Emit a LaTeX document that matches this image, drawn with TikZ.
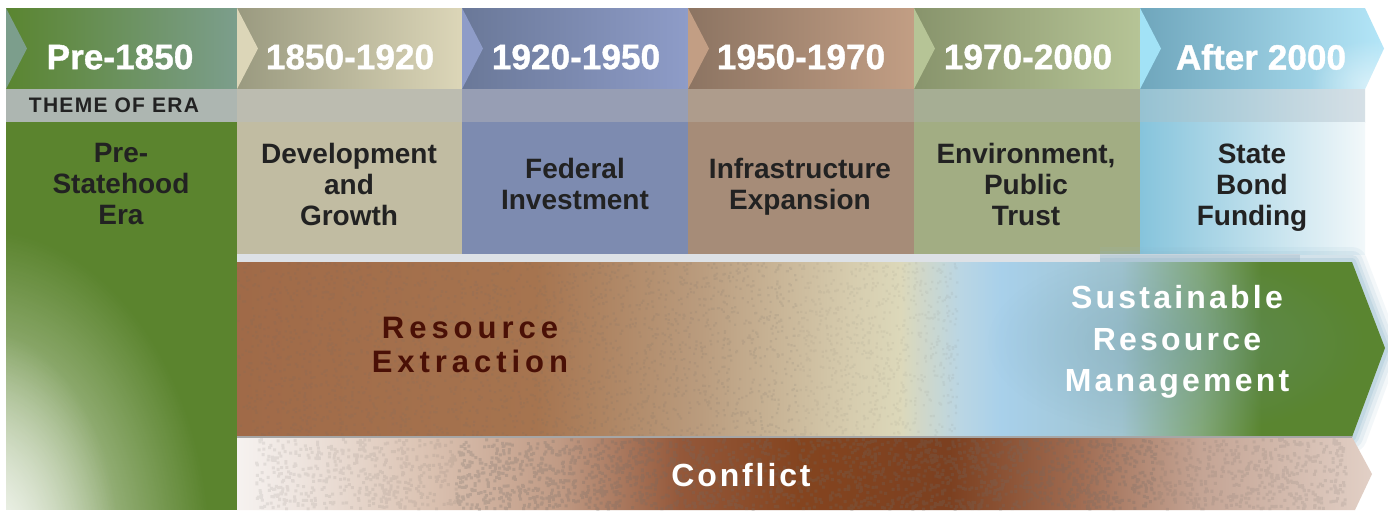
\documentclass[tikz,border=0pt]{standalone}
\usepackage{fontspec}
\setmainfont{Liberation Sans}
\usetikzlibrary{fadings}
% header colours (dark -> light)
\definecolor{hPreA}{HTML}{5A8530}\definecolor{hPreB}{HTML}{7C9E8C}
\definecolor{hDevA}{HTML}{9A9A80}\definecolor{hDevB}{HTML}{DCD6B8}
\definecolor{hFedA}{HTML}{6A7898}\definecolor{hFedB}{HTML}{8E9CC8}
\definecolor{hInfA}{HTML}{8C7462}\definecolor{hInfB}{HTML}{C29E84}
\definecolor{hEnvA}{HTML}{88946C}\definecolor{hEnvB}{HTML}{B6C496}
\definecolor{hStaA}{HTML}{6FA6BC}\definecolor{hStaB}{HTML}{B4E6F8}
\definecolor{hStaN}{HTML}{A2E2F6}
% theme row
\definecolor{tPre}{HTML}{ADB6B1}\definecolor{tDev}{HTML}{BCBCB0}
\definecolor{tFed}{HTML}{979EB4}\definecolor{tInf}{HTML}{AE9C8C}
\definecolor{tEnv}{HTML}{A6AE94}\definecolor{tStaA}{HTML}{96C2D2}\definecolor{tStaB}{HTML}{D6E0E6}
% content row
\definecolor{cPre}{HTML}{5B842E}\definecolor{cDev}{HTML}{C1BCA2}
\definecolor{cFed}{HTML}{7D8BB0}\definecolor{cInf}{HTML}{A68C78}
\definecolor{cEnv}{HTML}{A2AD83}\definecolor{cStaA}{HTML}{86C4DC}\definecolor{cStaB}{HTML}{F2F8FA}
\definecolor{gapgray}{HTML}{DDE1E6}
\definecolor{txtdark}{HTML}{222222}
\definecolor{restxt}{HTML}{4A1006}
\definecolor{glowblue}{HTML}{8FB8CC}
\definecolor{halo}{HTML}{6A96A6}
\definecolor{noisegray}{HTML}{6E6A66}
% band colours
\definecolor{r1}{HTML}{A06A48}\definecolor{r2}{HTML}{A6744F}\definecolor{r3}{HTML}{BA9C7E}
\definecolor{r4}{HTML}{D6CCAE}\definecolor{r5}{HTML}{DCD8BA}\definecolor{r6}{HTML}{BAD6E4}
\definecolor{r7}{HTML}{A8D0EA}\definecolor{r8}{HTML}{A0C4D0}\definecolor{r9}{HTML}{82A878}
\definecolor{r10}{HTML}{5A8530}
\definecolor{k1}{HTML}{F6F2F0}\definecolor{k2}{HTML}{EEE4DE}\definecolor{k3}{HTML}{DCC4B4}
\definecolor{k4}{HTML}{C09A84}\definecolor{k5}{HTML}{94583A}\definecolor{k6}{HTML}{84441F}
\definecolor{k7}{HTML}{7C4020}\definecolor{k8}{HTML}{A06C52}\definecolor{k9}{HTML}{C4A494}
\definecolor{k10}{HTML}{E2D0C6}
\pgfdeclarehorizontalshading{resband}{100bp}{color(0bp)=(r1); color(25bp)=(r1);
  color(38bp)=(r2); color(45.2bp)=(r3); color(51.7bp)=(r4); color(53.9bp)=(r5);
  color(56.5bp)=(r6); color(58.3bp)=(r7); color(63.5bp)=(r8); color(67bp)=(r9);
  color(69.6bp)=(r10); color(75bp)=(r10); color(100bp)=(r10)}
\pgfdeclarehorizontalshading{confband}{100bp}{color(0bp)=(k1); color(25bp)=(k1);
  color(27.8bp)=(k2); color(33.1bp)=(k3); color(39.2bp)=(k4); color(44.5bp)=(k5);
  color(49.8bp)=(k6); color(56.4bp)=(k7); color(62.1bp)=(k8); color(67.4bp)=(k9);
  color(75bp)=(k10); color(100bp)=(k10)}
\tikzfading[name=fuzzy, inner color=transparent!0, outer color=transparent!100]
\begin{document}
\begin{tikzpicture}[x=0.5pt,y=-0.5pt,
  hdrtext/.style={text=white,font=\fontsize{17.6}{19}\selectfont\bfseries\addfontfeatures{FakeBold=1},inner sep=0pt},
  celltext/.style={text=txtdark,align=center,font=\fontsize{14}{15.5}\selectfont\bfseries,inner sep=0pt},
  themetext/.style={text=txtdark,font=\fontsize{10.5}{12}\selectfont\bfseries\addfontfeatures{LetterSpace=6},inner sep=0pt},
  bandtext/.style={align=center,inner sep=0pt}]
\useasboundingbox (0,0) rectangle (1388,510);
\fill[white] (0,0) rectangle (1388,510);
\pgfmathsetseed{4242}
% ---------- header chevrons ----------
\shade[left color=hPreA,right color=hPreB] (6,8) rectangle (237,89);
\fill[hPreB] (6,8) -- (27,48.5) -- (6,89) -- cycle;
\shade[left color=hDevA,right color=hDevB] (237,8) rectangle (462,89);
\fill[hDevB] (237,8) -- (258,48.5) -- (237,89) -- cycle;
\shade[left color=hFedA,right color=hFedB] (462,8) rectangle (688,89);
\fill[hFedB] (462,8) -- (483,48.5) -- (462,89) -- cycle;
\shade[left color=hInfA,right color=hInfB] (688,8) rectangle (914,89);
\fill[hInfB] (688,8) -- (709,48.5) -- (688,89) -- cycle;
\shade[left color=hEnvA,right color=hEnvB] (914,8) rectangle (1140,89);
\fill[hEnvB] (914,8) -- (935,48.5) -- (914,89) -- cycle;
\shade[left color=hStaA,right color=hStaB] (1140,8) -- (1365,8) -- (1384,48.5) -- (1365,89) -- (1140,89) -- cycle;
\begin{scope}
  \clip (1140,8) -- (1365,8) -- (1384,48.5) -- (1365,89) -- (1140,89) -- cycle;
  \fill[white,opacity=0.5,path fading=fuzzy] (1370,85) ellipse (60 and 45);
\end{scope}
\fill[hStaN] (1140,8) -- (1161,48.5) -- (1140,89) -- cycle;
% ---------- theme row ----------
\fill[tPre] (6,89) rectangle (237,122);
\fill[tDev] (237,89) rectangle (462,122);
\fill[tFed] (462,89) rectangle (688,122);
\fill[tInf] (688,89) rectangle (914,122);
\fill[tEnv] (914,89) rectangle (1140,122);
\shade[left color=tStaA,right color=tStaB] (1140,89) rectangle (1365,122);
% ---------- content row ----------
\fill[cPre] (6,122) rectangle (237,510);
\begin{scope}
  \clip (6,122) rectangle (237,510);
  \fill[white,opacity=0.85,path fading=fuzzy] (-20,560) ellipse (230 and 330);
  \fill[white,opacity=0.8,path fading=fuzzy] (-20,560) ellipse (140 and 230);
\end{scope}
\fill[cDev] (237,122) rectangle (462,254);
\fill[cFed] (462,122) rectangle (688,254);
\fill[cInf] (688,122) rectangle (914,254);
\fill[cEnv] (914,122) rectangle (1140,254);
\shade[left color=cStaA,middle color=cStaA!55!white,right color=cStaB] (1140,122) rectangle (1365,254);
\fill[gapgray] (237,254) rectangle (1300,262);
% ---------- resource band with glow ----------
\foreach \w/\o in {30/0.10,22/0.15,14/0.2,8/0.25}{
  \draw[glowblue,line width=\w*0.5pt,opacity=\o,line join=round]
    (1100,262) -- (1352,262) -- (1385,348) -- (1352,437) -- (1100,437);}
\shade[shading=resband] (237,262) -- (1352,262) -- (1385,348) -- (1352,437) -- (237,437) -- cycle;
\fill[noisegray,opacity=0.13]
  \foreach \i in {1,...,2600}{ ({237+560*rnd},{262+173*rnd}) rectangle ++(2.2,2.2) };
\fill[noisegray,opacity=0.08]
  \foreach \i in {1,...,800}{ ({797+160*rnd},{262+173*rnd}) rectangle ++(2.2,2.2) };
\fill[halo,opacity=0.35,path fading=fuzzy] (1177,342) ellipse (190 and 95);
% ---------- conflict band ----------
\shade[shading=confband] (237,437) -- (1352,437) -- (1372,474) -- (1355,510) -- (237,510) -- cycle;
\fill[noisegray,opacity=0.12]
  \foreach \i in {1,...,500}{ ({255+200*rnd},{438+70*rnd}) rectangle ++(3,3) };
\fill[noisegray,opacity=0.24]
  \foreach \i in {1,...,2000}{ ({455+700*rnd},{438+70*rnd}) rectangle ++(3,3) };
\fill[noisegray,opacity=0.14]
  \foreach \i in {1,...,500}{ ({1155+190*rnd},{438+70*rnd}) rectangle ++(3,3) };
\draw[gray!70,line width=0.6pt] (237,437) -- (1352,437);
% ---------- texts ----------
\node[hdrtext] (h1) at (120,57) {Pre-1850};
\node[hdrtext] (h2) at (350,57) {1850-1920};
\node[hdrtext] (h3) at (576,57) {1920-1950};
\node[hdrtext] (h4) at (801,57) {1950-1970};
\node[hdrtext] (h5) at (1028,57) {1970-2000};
\node[hdrtext] (h6) at (1261,57) {After 2000};
\node[themetext] (theme) at (114,105) {THEME OF ERA};
\node[celltext] (c1) at (121,184) {Pre-\\Statehood\\Era};
\node[celltext] (c2) at (349,184) {Development\\and\\Growth};
\node[celltext] (c3) at (575,184) {Federal\\Investment};
\node[celltext] (c4) at (800,187) {Infrastructure\\Expansion};
\node[celltext] (c5) at (1026,184) {Environment,\\Public\\Trust};
\node[celltext] (c6) at (1252,188) {State\\Bond\\Funding};
\node[bandtext,text=restxt,font=\fontsize{15.5}{17}\selectfont\bfseries\addfontfeatures{LetterSpace=16}] (res) at (470,345) {Resource\\Extraction};
\node[bandtext,text=white,font=\fontsize{16}{20.75}\selectfont\bfseries\addfontfeatures{LetterSpace=10}] (sus) at (1177,342) {Sustainable\\Resource\\Management};
\node[bandtext,text=white,font=\fontsize{16}{20}\selectfont\bfseries\addfontfeatures{LetterSpace=9}] (con) at (741,475) {Conflict};
\end{tikzpicture}
\end{document}
